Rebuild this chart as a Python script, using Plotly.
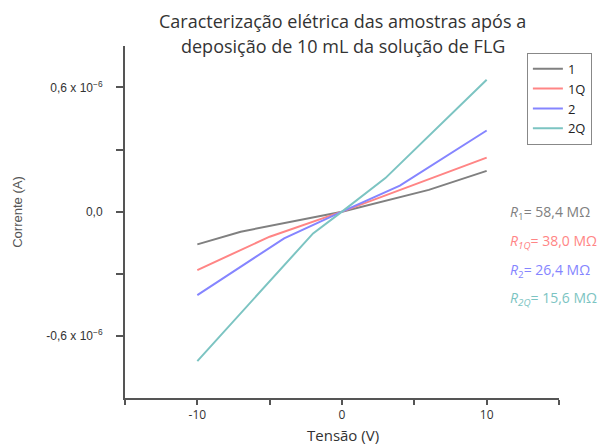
import plotly.graph_objects as go

# I-V curves (current in amperes vs applied voltage in volts)
series_names = ["1", "1Q", "2", "2Q"]

v_1 = [-10, -7, 0, 6, 10]
i_1 = [-0.158e-6, -0.097e-6, 0.0, 0.105e-6, 0.197e-6]

v_1q = [-10, -5, 0, 10]
i_1q = [-0.282e-6, -0.121e-6, 0.0, 0.261e-6]

v_2 = [-10, -4, 0, 4, 10]
i_2 = [-0.403e-6, -0.129e-6, 0.0, 0.126e-6, 0.392e-6]

v_2q = [-10, -2, 0, 3, 10]
i_2q = [-0.722e-6, -0.105e-6, 0.0, 0.162e-6, 0.637e-6]

colors = ["#808080", "#ff8585", "#8585ff", "#7cc4c2"]

# resistance labels
r_labels = [
    "<i>R</i><sub>1</sub>= 58,4 MΩ",
    "<i>R<sub>1Q</sub></i>= 38,0 MΩ",
    "<i>R</i><sub>2</sub>= 26,4 MΩ",
    "<i>R<sub>2Q</sub></i>= 15,6 MΩ",
]

title_lines = ["Caracterização elétrica das amostras após a",
               "deposição de 10 mL da solução de FLG"]

# axis ticks
x_tickvals = [-15, -10, -5, 0, 5, 10, 15]
x_ticktext = ["", "-10", "", "0", "", "10", ""]
y_tickvals = [-0.6e-6, -0.3e-6, 0.0, 0.3e-6, 0.6e-6]
y_ticktext = ["-0,6 x 10<sup>−6</sup>", "", "0,0", "", "0,6 x 10<sup>−6</sup>"]

fig = go.Figure()
for name, vx, iy, c in zip(series_names,
                           [v_1, v_1q, v_2, v_2q],
                           [i_1, i_1q, i_2, i_2q],
                           colors):
    fig.add_trace(go.Scatter(x=vx, y=iy, mode="lines", name=name,
                             line=dict(color=c, width=2)))

FONT_TXT = "Open Sans"
FONT_TICK = "Liberation Sans"

annotations = []
# resistance values next to the plot
for k, (txt, c) in enumerate(zip(r_labels, colors)):
    annotations.append(dict(
        x=11.5, y=-0.006e-6 - k * 0.138e-6, xref="x", yref="y",
        text=txt, showarrow=False, xanchor="left", yanchor="middle",
        font=dict(family=FONT_TXT, size=14, color=c)))

annotations.append(dict(
    x=0.502, y=-0.105, xref="paper", yref="paper", text="Tensão (V)",
    showarrow=False, xanchor="center", yanchor="middle",
    font=dict(family=FONT_TXT, size=15, color="#333333")))
annotations.append(dict(
    x=-0.2465, y=0.529, xref="paper", yref="paper", text="Corrente (A)",
    showarrow=False, xanchor="center", yanchor="middle", textangle=-90,
    font=dict(family=FONT_TICK, size=13, color="#555555")))
# two-line title, each line placed on its own
for line, ypos in zip(title_lines, [1.072, 1.0]):
    annotations.append(dict(
        x=0.502, y=ypos, xref="paper", yref="paper", text=line,
        showarrow=False, xanchor="center", yanchor="middle",
        font=dict(family=FONT_TXT, size=18, color="#333333")))

fig.update_layout(
    width=607, height=445,
    margin=dict(l=125, r=48, t=46, b=47),
    paper_bgcolor="white", plot_bgcolor="white",
    showlegend=True,
    legend=dict(x=0.926, y=0.981, xanchor="left", yanchor="top",
                bordercolor="#888888", borderwidth=1, bgcolor="white",
                font=dict(family=FONT_TXT, size=13, color="#222222"),
                itemwidth=30, tracegroupgap=0),
    annotations=annotations,
)
fig.update_xaxes(range=[-15, 15], tickvals=x_tickvals, ticktext=x_ticktext,
                 showline=True, linecolor="#555555", linewidth=2,
                 ticks="outside", ticklen=5, tickwidth=2, tickcolor="#555555",
                 showgrid=False, zeroline=False,
                 tickfont=dict(family=FONT_TXT, size=12, color="#333333"))
fig.update_yaxes(range=[-0.9e-6, 0.8e-6], tickvals=y_tickvals, ticktext=y_ticktext,
                 showline=True, linecolor="#555555", linewidth=2,
                 ticks="outside", ticklen=7, tickwidth=2, tickcolor="#555555",
                 showgrid=False, zeroline=False, ticklabelstandoff=11,
                 tickfont=dict(family=FONT_TICK, size=12, color="#333333"))

fig.write_html("out.html")
